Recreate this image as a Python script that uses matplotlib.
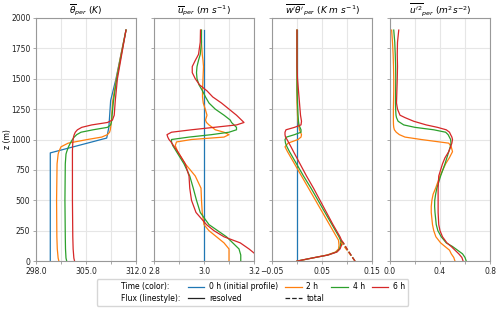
import matplotlib
matplotlib.use("Agg")
import matplotlib.pyplot as plt
from matplotlib.lines import Line2D

# ---------------- data ----------------
times = ["0 h (initial profile)", "2 h", "4 h", "6 h"]
colors = ["#1f77b4", "#ff7f0e", "#2ca02c", "#d62728"]

# potential temperature
z_th0 = [0, 890, 1012, 1100, 1320, 1500, 1700, 1900]
th_0h = [300.0, 300.0, 307.9, 308.2, 308.45, 309.2, 309.9, 310.6]
z_th = [0, 25, 100, 200, 500, 800, 880, 900, 940, 970, 1000, 1020, 1040, 1060,
        1080, 1100, 1120, 1140, 1160, 1200, 1320, 1500, 1700, 1900]
th_2h = [301.2, 301.1, 300.98, 300.92, 300.88, 300.95, 301.1, 301.2, 301.5, 302.5,
         305.2, 307.2, 308.0, 308.3, 308.4, 308.45, 308.5, 308.52, 308.55, 308.6,
         308.75, 309.25, 309.9, 310.6]
th_4h = [302.3, 302.2, 302.13, 302.1, 302.05, 302.1, 302.2, 302.3, 302.55, 302.8,
         303.1, 303.35, 303.7, 304.3, 306.0, 308.0, 308.45, 308.55, 308.6, 308.65,
         308.85, 309.3, 309.95, 310.6]
th_6h = [303.4, 303.3, 303.2, 303.15, 303.1, 303.1, 303.1, 303.1, 303.12, 303.15,
         303.2, 303.25, 303.35, 303.5, 303.8, 304.4, 305.8, 308.0, 308.7, 308.95,
         309.1, 309.4, 310.0, 310.6]

# mean wind
z_u0 = [0, 1900]
u_0h = [3.0, 3.0]
z_u = [0, 50, 100, 150, 200, 250, 300, 400, 500, 600, 700, 800, 900, 950, 980, 1000,
       1020, 1040, 1060, 1080, 1100, 1120, 1140, 1160, 1200, 1250, 1300, 1350, 1400,
       1450, 1500, 1550, 1600, 1650, 1700, 1800, 1900]
u_2h = [3.10, 3.10, 3.10, 3.08, 3.05, 3.02, 3.0, 2.993, 2.99, 2.988, 2.965, 2.925,
        2.895, 2.885, 2.89, 2.95, 3.08, 3.10, 3.08, 3.045, 3.033, 3.02, 3.01, 3.006,
        3.012, 3.005, 2.997, 2.994, 2.994, 2.995, 2.996, 2.997, 2.998, 2.996, 2.993,
        2.99, 2.988]
u_4h = [3.147, 3.147, 3.14, 3.115, 3.09, 3.055, 3.02, 2.985, 2.97, 2.957, 2.943,
        2.92, 2.89, 2.875, 2.87, 2.87, 2.94, 3.03, 3.10, 3.13, 3.13, 3.12, 3.11,
        3.105, 3.08, 3.045, 3.02, 3.006, 2.994, 2.98, 2.972, 2.97, 2.972, 2.978,
        2.985, 2.99, 2.99]
u_6h = [3.24, 3.21, 3.18, 3.145, 3.08, 3.04, 3.01, 2.968, 2.95, 2.943, 2.94, 2.925,
        2.895, 2.878, 2.868, 2.86, 2.855, 2.852, 2.87, 2.95, 3.04, 3.13, 3.16, 3.15,
        3.13, 3.10, 3.07, 3.035, 3.012, 2.982, 2.965, 2.953, 2.953, 2.965, 2.978,
        2.985, 2.986]

# heat flux (resolved)
z_w0 = [0, 1900]
w_0h = [0.0, 0.0]
z_w = [0, 25, 50, 75, 100, 130, 172, 200, 300, 400, 500, 600, 700, 800, 900, 940, 970,
       1000, 1020, 1040, 1060, 1080, 1100, 1120, 1150, 1200, 1300, 1400, 1500, 1600,
       1700, 1800, 1900]
w_2h = [0.0, 0.03, 0.06, 0.077, 0.083, 0.084, 0.083, 0.079, 0.065, 0.051, 0.037,
        0.023, 0.009, -0.005, -0.019, -0.024, -0.018, 0.002, 0.008, 0.009, 0.007,
        0.005, 0.004, 0.003, 0.002, 0.001, 0.0, 0.0, 0.0, 0.0, 0.0, 0.0, 0.0]
w_4h = [0.0, 0.03, 0.062, 0.079, 0.085, 0.087, 0.087, 0.084, 0.07, 0.056, 0.042,
        0.028, 0.013, -0.001, -0.015, -0.02, -0.023, -0.024, -0.021, -0.005, 0.008,
        0.008, 0.006, 0.004, 0.003, 0.002, 0.001, 0.0, 0.0, 0.0, 0.0, 0.0, 0.0]
w_6h = [0.0, 0.03, 0.062, 0.08, 0.086, 0.089, 0.089, 0.086, 0.072, 0.059, 0.046,
        0.033, 0.019, 0.006, -0.007, -0.012, -0.016, -0.02, -0.023, -0.024, -0.024,
        -0.022, -0.005, 0.008, 0.009, 0.007, 0.005, 0.003, 0.001, 0.0, 0.0, 0.0, 0.0]
# heat flux (total, surface layer)
z_wt = [0, 50, 100, 150, 172]
wt_2h = [0.116, 0.107, 0.098, 0.089, 0.083]
wt_4h = [0.116, 0.108, 0.1, 0.092, 0.087]
wt_6h = [0.116, 0.108, 0.1, 0.093, 0.089]

# velocity variance
z_v = [0, 30, 60, 90, 120, 150, 200, 250, 300, 400, 450, 500, 550, 600, 700, 800,
       850, 900, 940, 970, 1000, 1020, 1040, 1060, 1080, 1100, 1120, 1150, 1180, 1200,
       1250, 1300, 1400, 1500, 1600, 1700, 1800, 1900]
v_2h = [0.52, 0.51, 0.49, 0.476, 0.44, 0.405, 0.367, 0.35, 0.34, 0.33, 0.33, 0.335,
        0.345, 0.365, 0.40, 0.445, 0.475, 0.50, 0.49, 0.47, 0.25, 0.12, 0.075, 0.05,
        0.035, 0.03, 0.028, 0.027, 0.027, 0.027, 0.027, 0.028, 0.03, 0.03, 0.028,
        0.025, 0.02, 0.013]
v_4h = [0.61, 0.60, 0.58, 0.54, 0.50, 0.45, 0.41, 0.383, 0.37, 0.36, 0.357, 0.358,
        0.365, 0.375, 0.405, 0.44, 0.455, 0.47, 0.482, 0.488, 0.485, 0.475, 0.465,
        0.445, 0.35, 0.2, 0.11, 0.065, 0.052, 0.048, 0.045, 0.044, 0.045, 0.046,
        0.045, 0.042, 0.038, 0.03]
v_6h = [0.585, 0.575, 0.55, 0.52, 0.49, 0.455, 0.42, 0.40, 0.39, 0.385, 0.385, 0.385,
        0.385, 0.385, 0.39, 0.42, 0.44, 0.47, 0.485, 0.495, 0.50, 0.495, 0.485, 0.476,
        0.45, 0.38, 0.29, 0.19, 0.12, 0.08, 0.06, 0.052, 0.055, 0.058, 0.06, 0.058,
        0.06, 0.07]

titles = [r"$\overline{\theta}_{per}$ $(K)$",
          r"$\overline{u}_{per}$ $(m\ s^{-1})$",
          r"$\overline{w'\theta'}_{per}$ $(K\ m\ s^{-1})$",
          r"$\overline{u'^2}_{per}$ $(m^2 s^{-2})$"]
xticks = [[298, 301.5, 305, 308.5, 312],
          [2.8, 2.9, 3.0, 3.1, 3.2],
          [-0.05, 0.0, 0.05, 0.1, 0.15],
          [0.0, 0.2, 0.4, 0.6, 0.8]]
xticklabels = [["298.0", "", "305.0", "", "312.0"],
               ["2.8", "", "3.0", "", "3.2"],
               ["\u22120.05", "", "0.05", "", "0.15"],
               ["0.0", "", "0.4", "", "0.8"]]
yticks = [0, 250, 500, 750, 1000, 1250, 1500, 1750, 2000]

# ---------------- plot ----------------
plt.rcParams["font.size"] = 5.5
fig, axes = plt.subplots(1, 4, figsize=(5.0, 3.09), dpi=100, sharey=True)
fig.subplots_adjust(left=0.072, right=0.98, top=0.942, bottom=0.155, wspace=0.18)

lw = 0.9
panels = [
    [(z_th0, th_0h), (z_th, th_2h), (z_th, th_4h), (z_th, th_6h)],
    [(z_u0, u_0h), (z_u, u_2h), (z_u, u_4h), (z_u, u_6h)],
    [(z_w0, w_0h), (z_w, w_2h), (z_w, w_4h), (z_w, w_6h)],
    [(z_v, v_2h), (z_v, v_4h), (z_v, v_6h)],
]
panel_colors = [colors, colors, colors, colors[1:]]

for i, ax in enumerate(axes):
    for (zz, xx), c in zip(panels[i], panel_colors[i]):
        ax.plot(xx, zz, color=c, lw=lw)
    if i == 2:
        for tt, c in zip([wt_2h, wt_4h, wt_6h], colors[1:]):
            ax.plot(tt, z_wt, color=c, lw=lw, ls="--")
    ax.set_xlim(xticks[i][0], xticks[i][-1])
    ax.set_ylim(0, 2000)
    ax.set_xticks(xticks[i])
    ax.set_xticklabels(xticklabels[i])
    ax.set_yticks(yticks)
    ax.set_title(titles[i], fontsize=6.5, pad=3)
    ax.grid(True, color="#e6e6e6", lw=0.8)
    ax.set_axisbelow(True)
    for s in ax.spines.values():
        s.set_color("#999999")
        s.set_linewidth(0.8)
    ax.tick_params(colors="#999999", labelcolor="#222222", length=2.5, width=0.6,
                   pad=1.5)

axes[0].set_ylabel("z (m)")
axes[0].yaxis.set_label_coords(-0.24, 0.5)

blank = Line2D([], [], color="none")
handles = [blank, blank,
           Line2D([], [], color=colors[0], lw=lw), Line2D([], [], color="#222222", lw=lw),
           Line2D([], [], color=colors[1], lw=lw), Line2D([], [], color="#222222", lw=lw, ls="--"),
           Line2D([], [], color=colors[2], lw=lw), blank,
           Line2D([], [], color=colors[3], lw=lw), blank]
labels = ["Time (color):", "Flux (linestyle):",
          times[0], "resolved", times[1], "total", times[2], "", times[3], ""]
fig.legend(handles, labels, ncol=5, loc="center", bbox_to_anchor=(0.505, 0.053),
           fontsize=5.5, handlelength=2.2, handletextpad=0.6, columnspacing=0.9,
           frameon=True, borderpad=0.4, labelspacing=0.3)

fig.savefig("out.png", dpi=100)
